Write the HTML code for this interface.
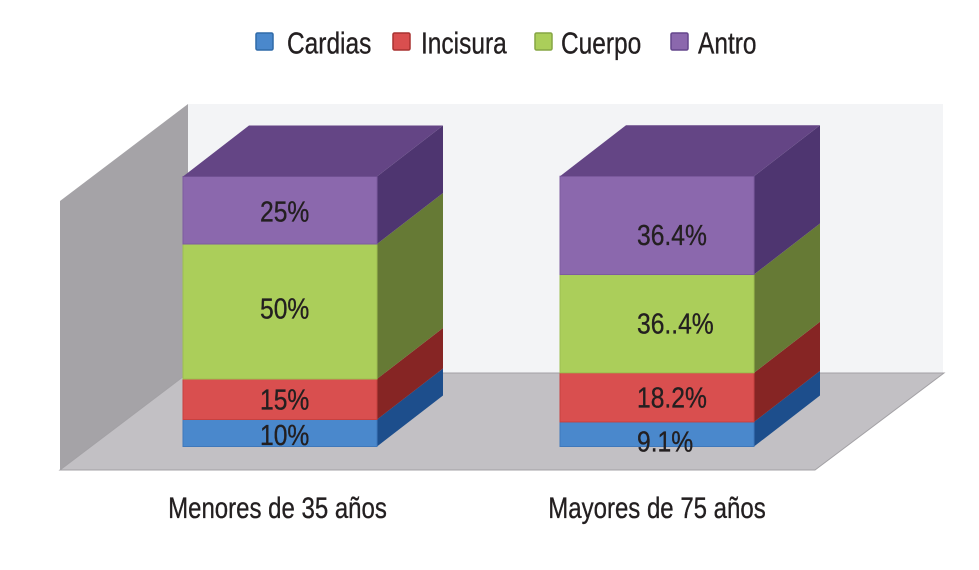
<!DOCTYPE html>
<html lang="es">
<head>
<meta charset="utf-8">
<title>Localización por grupo de edad</title>
<style>
html,body{margin:0;padding:0;background:#fff;}
svg{display:block;}
text{font-family:"Liberation Sans",sans-serif;stroke:#231f20;stroke-width:0.35px;}
</style>
</head>
<body>
<svg id="chart" width="979" height="570" viewBox="0 0 979 570" xmlns="http://www.w3.org/2000/svg">
  <rect x="0" y="0" width="979" height="570" fill="#ffffff"/>
  <polygon points="188,104 943,104 943,373 188,373" fill="#f3f4f6"/>
  <polygon points="60,201 188,104 188,373 60,470" fill="#a5a3a7"/>
  <polygon points="60,470 815,470 944,373 188,373" fill="#c2c0c4" stroke="#a3a1a5" stroke-width="1"/>
  <g id="bars"></g>
  <g id="labels"></g>
  <g id="categories"></g>
  <g id="legend"></g>
</svg>
<script>
const categories = ['Menores de 35 años', 'Mayores de 75 años'];
const seriesNames = ['Cardias', 'Incisura', 'Cuerpo', 'Antro'];
const cardias = [10, 9.1];
const incisura = [15, 18.2];
const cuerpo = [50, 36.4];
const antro = [25, 36.4];
const cardiasLabels = ['10%', '9.1%'];
const incisuraLabels = ['15%', '18.2%'];
const cuerpoLabels = ['50%', '36..4%'];
const antroLabels = ['25%', '36.4%'];

const NS = 'http://www.w3.org/2000/svg';
const series = [cardias, incisura, cuerpo, antro];
const printed = [cardiasLabels, incisuraLabels, cuerpoLabels, antroLabels];
const front = ['#4a88cc', '#d94f4f', '#abce5a', '#8b68ad'];
const side = ['#1d4e8c', '#862524', '#667a35', '#4e3570'];
const edge = ['#3f78bb', '#c8413f', '#9dbf50', '#7d5ba0'];
const swatchEdge = ['#2f6aa8', '#a83230', '#86a544', '#64468c'];
const slug = ['cardias', 'incisura', 'cuerpo', 'antro'];
const catSlug = ['menores', 'mayores'];

function yScale(v) { return 446.5 - v * 2.7; }
function xBand(i) { return 183 + i * 377; }
const BAR_W = 194, DX = 66, DY = 51;

function make(tag, attrs, parent) {
  const el = document.createElementNS(NS, tag);
  for (const k in attrs) el.setAttribute(k, attrs[k]);
  parent.appendChild(el);
  return el;
}
function condensedText(content, x, y, size, scaleX, anchor, parent) {
  const t = make('text', {
    transform: 'translate(' + x + ',' + y + ') scale(' + scaleX + ',1)',
    'font-size': size, fill: '#231f20', 'text-anchor': anchor
  }, parent);
  t.textContent = content;
  return t;
}

function drawBars() {
  const g = document.getElementById('bars');
  const lg = document.getElementById('labels');
  const nudge = [[2, 0, -3, 1], [7.5, 0, 0, 9.5]];
  categories.forEach(function (cat, c) {
    const x = xBand(c);
    let total = 0;
    series.forEach(function (vals, s) {
      const y0 = yScale(total);
      total += vals[c];
      const y1 = yScale(total);
      const sidePoly = make('polygon', {
        points: (x + BAR_W) + ',' + y0 + ' ' + (x + BAR_W + DX) + ',' + (y0 - DY) + ' ' +
                (x + BAR_W + DX) + ',' + (y1 - DY) + ' ' + (x + BAR_W) + ',' + y1,
        fill: side[s]
      }, g);
      
      
      const rect = make('rect', {
        x: x, y: y1, width: BAR_W, height: y0 - y1,
        fill: front[s], stroke: edge[s], 'stroke-width': 1
      }, g);
      
      
      const mid = (y0 + y1) / 2 + nudge[c][s] + 10;
      const label = condensedText(printed[s][c], x + 77, mid, 29, 0.85, 'start', lg);
      
      
    });
    const topY = yScale(total);
    const top = make('polygon', {
      points: x + ',' + topY + ' ' + (x + DX) + ',' + (topY - DY) + ' ' +
              (x + BAR_W + DX) + ',' + (topY - DY) + ' ' + (x + BAR_W) + ',' + topY,
      fill: '#644585'
    }, g);
    
    
  });
}

function drawCategories() {
  const g = document.getElementById('categories');
  categories.forEach(function (cat, c) {
    const t = condensedText(cat, xBand(c) + BAR_W / 2 - (c === 0 ? 2.5 : 0), 518, 30, 0.8, 'middle', g);
    
    
  });
}

function drawLegend() {
  const g = document.getElementById('legend');
  const swatchX = [256, 393, 535, 671];
  const textX = [287, 421, 561, 698];
  seriesNames.forEach(function (name, s) {
    const r = make('rect', {
      x: swatchX[s], y: 33, width: 17, height: 17, rx: 1.5,
      fill: front[s], stroke: swatchEdge[s], 'stroke-width': 1.5
    }, g);
    
    
    const t = condensedText(name, textX[s], 53.5, 31, 0.79, 'start', g);
    
    
  });
}

drawBars();
drawCategories();
drawLegend();
</script>
</body>
</html>
